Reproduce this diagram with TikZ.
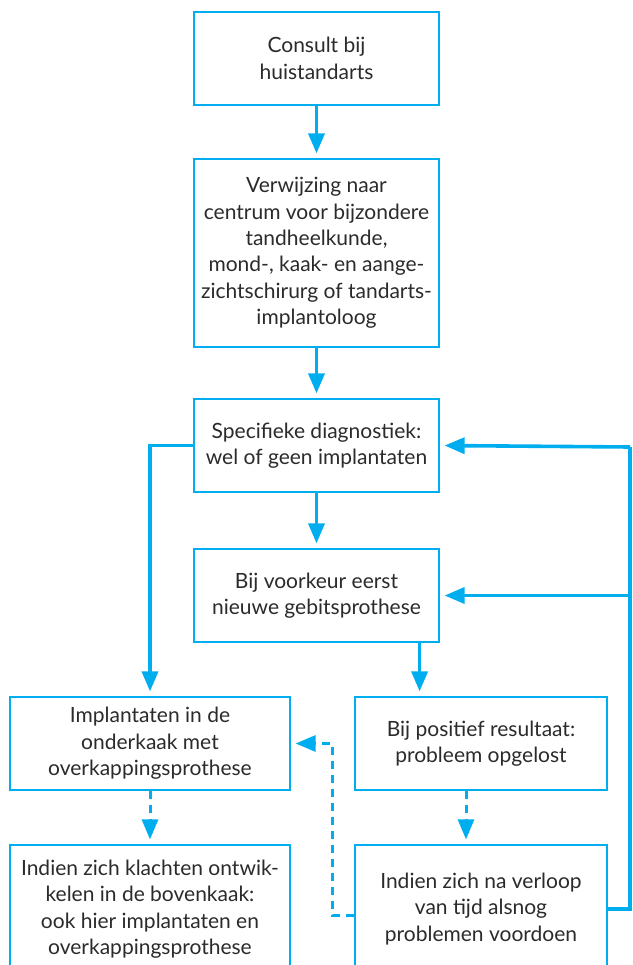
\documentclass[tikz,border=0pt]{standalone}
\usepackage{xcolor}
\usepackage{fontspec}
\setmainfont{Lato}
\usepackage{tikz}
\usetikzlibrary{arrows.meta,calc}

\definecolor{flowcyan}{HTML}{00AEEF}
\definecolor{flowtext}{HTML}{2B2B2B}

\begin{document}
\begin{tikzpicture}[
    x=1pt, y=-1pt,
    stepbox/.style={rectangle, draw=flowcyan, line width=1.2pt, fill=white, text=flowtext, align=center, inner sep=0pt, font=\fontsize{21}{26.4}\selectfont},
    midbox/.style={stepbox, minimum width=245pt, minimum height=93pt},
    leftbox/.style={stepbox, minimum width=280pt, minimum height=93pt},
    rightbox/.style={stepbox, minimum width=252pt, minimum height=93pt},
    arrow/.style={flowcyan, line width=3.6pt, -{Triangle[length=20pt, width=16pt]}, shorten >=5pt},
    dasharrow/.style={flowcyan, line width=3pt, dash pattern=on 8pt off 6pt, -{Triangle[length=20pt, width=16pt]}, shorten >=5pt},
    line/.style={flowcyan, line width=3.6pt}
]
    \clip (0,0) rectangle (632,965);

    % Main column
    \node[midbox] (consult)     at (316.5, 58.5)  {Consult bij\\huistandarts};
    \node[midbox, minimum height=188pt] (verwijzing) at (316.5, 253) {Verwijzing naar\\centrum voor bijzondere\\tandheelkunde,\\mond-, kaak- en aange-\\zichtschirurg of tandarts-\\implantoloog};
    \node[midbox] (diagnostiek) at (316.5, 445.5) {Specifieke diagnostiek:\\wel of geen implantaten};
    \node[midbox] (voorkeur)    at (316.5, 595.5) {Bij voorkeur eerst\\nieuwe gebitsprothese};

    % Two branches
    \node[leftbox]  (implantaten) at (150, 743.5) {Implantaten in de\\onderkaak met\\overkappingsprothese};
    \node[rightbox] (positief)    at (481, 743.5) {Bij positief resultaat:\\probleem opgelost};
    \node[leftbox, minimum height=128pt]  (klachten) at (150, 909) {Indien zich klachten ontwik-\\kelen in de bovenkaak:\\ook hier implantaten en\\overkappingsprothese};
    \node[rightbox, minimum height=128pt] (verloop)  at (481, 909) {Indien zich na verloop\\van tijd alsnog\\problemen voordoen};

    % Helper points
    \coordinate (vk) at ($(voorkeur.south east)+(-20,0)$);
    \coordinate (pd) at ($(positief.south)+(-15,0)$);
    \coordinate (rtop) at (630, 447);
    \coordinate (dk) at ($(implantaten.east)+(42,0)$);

    % Top sequence
    \draw[arrow] (consult) -- (verwijzing);
    \draw[arrow] (verwijzing) -- (diagnostiek);
    \draw[arrow] (diagnostiek) -- (voorkeur);

    % Branches
    \draw[arrow] (diagnostiek.west) -| (implantaten.north);
    \draw[arrow] (vk) -- (vk |- positief.north);
    \draw[dasharrow] (implantaten) -- (klachten);
    \draw[dasharrow] (pd) -- (pd |- verloop.north);

    % Feedback on the right
    \draw[line] (verloop.east) -| (rtop);
    \draw[arrow] (rtop) -- (diagnostiek.east);
    \draw[arrow] (rtop |- voorkeur.east) -- (voorkeur.east);

    % Dashed back to implants
    \draw[dasharrow] ([yshift=-6pt]verloop.west) -| (dk) -- (implantaten.east);

\end{tikzpicture}
\end{document}
